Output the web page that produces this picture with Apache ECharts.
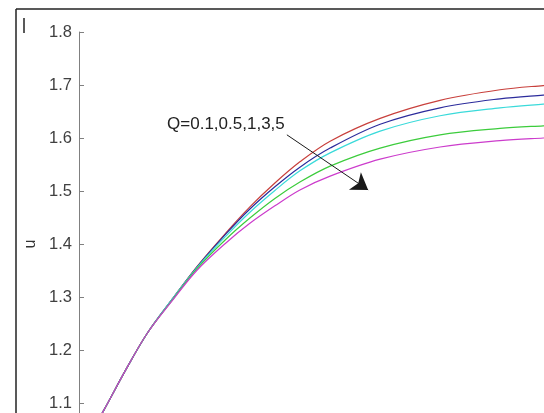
<!DOCTYPE html>
<html>
<head>
<meta charset="utf-8">
<script src="https://cdn.jsdelivr.net/npm/echarts@6/dist/echarts.min.js"></script>
<style>
  html, body { margin: 0; padding: 0; background: #fff; overflow: hidden; }
  #c { position: absolute; left: 0; top: 0; width: 620px; height: 480px; }
</style>
</head>
<body>
<div id="c"></div>
<script>
// Position across the channel (normalised)
const xPos = [0.019, 0.048, 0.094, 0.132, 0.179, 0.226, 0.282, 0.328, 0.376, 0.424, 0.482, 0.578, 0.693, 0.808, 0.891, 0.933];

// Velocity profiles u for each Q
const uQ01 = [1.036, 1.087, 1.170, 1.233, 1.296, 1.357, 1.421, 1.470, 1.515, 1.555, 1.594, 1.637, 1.671, 1.691, 1.699, 1.702];
const uQ05 = [1.036, 1.087, 1.170, 1.233, 1.296, 1.356, 1.419, 1.466, 1.508, 1.545, 1.581, 1.626, 1.657, 1.674, 1.681, 1.684];
const uQ1  = [1.036, 1.087, 1.170, 1.233, 1.296, 1.355, 1.415, 1.460, 1.501, 1.538, 1.572, 1.613, 1.642, 1.657, 1.664, 1.667];
const uQ3  = [1.036, 1.087, 1.170, 1.233, 1.294, 1.353, 1.409, 1.449, 1.486, 1.517, 1.547, 1.581, 1.606, 1.618, 1.623, 1.625];
const uQ5  = [1.036, 1.087, 1.170, 1.233, 1.293, 1.350, 1.402, 1.439, 1.472, 1.502, 1.528, 1.560, 1.583, 1.595, 1.600, 1.602];

const seriesNames = ['Q=0.1', 'Q=0.5', 'Q=1', 'Q=3', 'Q=5'];
const seriesValues = [uQ01, uQ05, uQ1, uQ3, uQ5];
const seriesColors = ['#c8403c', '#2c2c9c', '#3adada', '#3ccc3c', '#cc3ccc'];

const yTicks = { min: 1.0, max: 1.8, step: 0.1 };

// Annotation: label and arrow in data coordinates
const annotText = 'Q=0.1,0.5,1,3,5';
const annotAt = [0.282, 1.625];
const arrowFrom = [0.399, 1.606];
const arrowTo = [0.555, 1.502];

const FONT = '"Liberation Sans", Arial, Helvetica, sans-serif';

const chart = echarts.init(document.getElementById('c'), null, { renderer: 'canvas' });

const series = seriesNames.map((name, i) => ({
  name,
  type: 'line',
  data: xPos.map((x, k) => [x, seriesValues[i][k]]),
  smooth: 0.35,
  showSymbol: false,
  lineStyle: { color: seriesColors[i], width: 1.2 },
  itemStyle: { color: seriesColors[i] },
  animation: false,
  z: 3
}));

series[series.length - 1].markLine = {
  silent: true,
  symbol: ['none', 'arrow'],
  symbolSize: 16,
  animation: false,
  label: { show: false },
  lineStyle: { color: '#1a1a1a', width: 1, type: 'solid' },
  data: [[{ coord: arrowFrom }, { coord: arrowTo }]]
};

chart.setOption({
  backgroundColor: '#fff',
  animation: false,
  grid: { left: 79, top: 32, right: 20, bottom: 24, containLabel: false },
  xAxis: {
    type: 'value', min: 0, max: 1, show: false
  },
  yAxis: {
    type: 'value',
    min: yTicks.min, max: yTicks.max, interval: yTicks.step,
    name: 'u',
    nameLocation: 'middle',
    nameGap: 33,
    nameTextStyle: { color: '#333', fontSize: 16, fontFamily: FONT },
    axisLine: { show: true, lineStyle: { color: '#808080', width: 1 } },
    axisTick: { show: true, inside: true, length: 5, lineStyle: { color: '#808080' } },
    splitLine: { show: false },
    axisLabel: {
      margin: 7,
      color: '#404040',
      fontSize: 16.5,
      fontFamily: FONT,
      formatter: v => v.toFixed(1)
    }
  },
  series
});

const p = chart.convertToPixel({ gridIndex: 0 }, annotAt);

chart.setOption({
  graphic: [
    // outer frame (top and left edges)
    { type: 'line', shape: { x1: 16, y1: 9, x2: 620, y2: 9 }, style: { stroke: '#222', lineWidth: 1.5 }, silent: true },
    { type: 'line', shape: { x1: 16, y1: 9, x2: 16, y2: 480 }, style: { stroke: '#222', lineWidth: 1.5 }, silent: true },
    // small vertical mark in the corner
    { type: 'line', shape: { x1: 24, y1: 18, x2: 24, y2: 33 }, style: { stroke: '#222', lineWidth: 1.5 }, silent: true },
    {
      type: 'text',
      x: p[0], y: p[1],
      style: {
        text: annotText,
        fill: '#222',
        font: '17px ' + FONT,
        textAlign: 'center',
        textVerticalAlign: 'middle'
      },
      silent: true,
      z: 10
    }
  ]
});
</script>
</body>
</html>
